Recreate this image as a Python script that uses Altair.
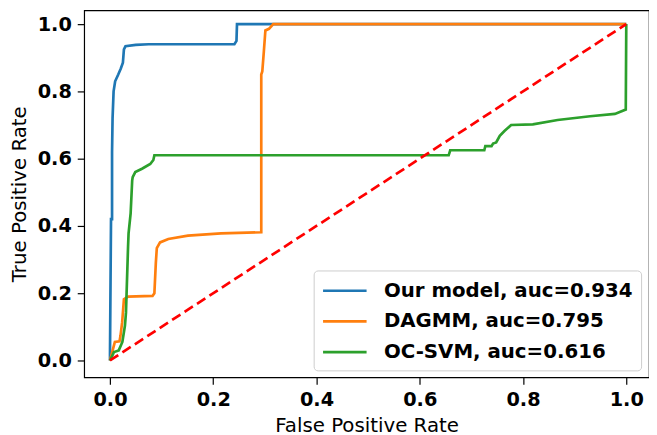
import altair as alt
import pandas as pd

series_names = ["Our model, auc=0.934", "DAGMM, auc=0.795", "OC-SVM, auc=0.616"]
series_colors = ["#1f77b4", "#ff7f0e", "#2ca02c"]

ours_fpr = [0.0, 0.0, 0.002, 0.004, 0.004, 0.005, 0.007, 0.010, 0.016, 0.021, 0.025, 0.027, 0.030, 0.050, 0.075, 0.241, 0.245, 0.246, 0.320, 1.0]
ours_tpr = [0.0, 0.02, 0.42, 0.42, 0.62, 0.72, 0.80, 0.83, 0.85, 0.868, 0.885, 0.925, 0.934, 0.938, 0.940, 0.940, 0.950, 1.0, 1.0, 1.0]

dagmm_fpr = [0.0, 0.0077, 0.0095, 0.0185, 0.0204, 0.0236, 0.027, 0.035, 0.0824, 0.086, 0.0888, 0.0907, 0.097, 0.113, 0.151, 0.215, 0.293, 0.293, 0.295, 0.298, 0.301, 0.308, 0.314, 0.316, 1.0]
dagmm_tpr = [0.0, 0.045, 0.055, 0.057, 0.074, 0.114, 0.182, 0.190, 0.192, 0.200, 0.290, 0.334, 0.351, 0.361, 0.371, 0.378, 0.381, 0.850, 0.859, 0.918, 0.981, 0.986, 0.996, 1.0, 1.0]

ocsvm_fpr = [0.0, 0.0077, 0.017, 0.024, 0.029, 0.031, 0.033, 0.035, 0.036, 0.040, 0.043, 0.044, 0.049, 0.062, 0.078, 0.084, 0.086, 0.656, 0.659, 0.725, 0.727, 0.739, 0.742, 0.748, 0.755, 0.764, 0.777, 0.819, 0.867, 0.930, 0.978, 0.999, 1.0]
ocsvm_tpr = [0.0, 0.025, 0.030, 0.055, 0.104, 0.143, 0.241, 0.339, 0.378, 0.437, 0.535, 0.545, 0.560, 0.570, 0.584, 0.596, 0.610, 0.610, 0.625, 0.625, 0.637, 0.637, 0.645, 0.648, 0.668, 0.682, 0.700, 0.702, 0.715, 0.726, 0.733, 0.746, 1.0]

chance_fpr = [0.0, 1.0]
chance_tpr = [0.0, 1.0]

x_ticks = [0.0, 0.2, 0.4, 0.6, 0.8, 1.0]
y_ticks = [0.0, 0.2, 0.4, 0.6, 0.8, 1.0]

rows = []
for name, fprs, tprs in zip(series_names, [ours_fpr, dagmm_fpr, ocsvm_fpr], [ours_tpr, dagmm_tpr, ocsvm_tpr]):
    for i, (f, t) in enumerate(zip(fprs, tprs)):
        rows.append({"model": name, "fpr": f, "tpr": t, "idx": i})
df = pd.DataFrame(rows)
chance_df = pd.DataFrame({"fpr": chance_fpr, "tpr": chance_tpr, "idx": list(range(len(chance_fpr)))})

x_enc = alt.X(
    "fpr:Q",
    scale=alt.Scale(domain=[-0.05, 1.044], nice=False, zero=False),
    axis=alt.Axis(values=x_ticks, format=".1f", title="False Positive Rate"),
)
y_enc = alt.Y(
    "tpr:Q",
    scale=alt.Scale(domain=[-0.05, 1.041], nice=False, zero=False),
    axis=alt.Axis(values=y_ticks, format=".1f", title="True Positive Rate"),
)

lines = alt.Chart(df).mark_line(strokeWidth=2.7).encode(
    x=x_enc,
    y=y_enc,
    color=alt.Color(
        "model:N",
        scale=alt.Scale(domain=series_names, range=series_colors),
        legend=alt.Legend(
            orient="none",
            legendX=232,
            legendY=263,
            title=None,
            symbolType="M-1,0H3",
            symbolStrokeWidth=2.7,
            symbolSize=484,
            symbolFillColor="transparent",
            labelFont="DejaVu Sans",
            labelFontWeight="bold",
            labelFontSize=20,
            labelColor="black",
            labelOffset=38,
            labelLimit=400,
            strokeColor="#cccccc",
            cornerRadius=4,
            fillColor="rgba(255,255,255,0.8)",
            padding=8,
            rowPadding=8,
        ),
    ),
    order="idx:Q",
)

chance = alt.Chart(chance_df).mark_line(
    color="#ff0000", strokeWidth=2.7, strokeDash=[10, 5]
).encode(x="fpr:Q", y="tpr:Q", order="idx:Q")

chart = (
    alt.layer(lines, chance)
    .properties(
        width=571,
        height=371,
        autosize=alt.AutoSizeParams(type="none"),
        padding={"left": 77, "top": 0, "right": 0, "bottom": 56},
    )
    .configure_view(stroke="black", strokeWidth=1.2)
    .configure_axis(
        domain=False,
        grid=False,
        ticks=True,
        tickColor="black",
        tickSize=7,
        tickWidth=1.2,
        labelFont="DejaVu Sans",
        labelFontWeight="bold",
        labelFontSize=19.5,
        labelColor="black",
        labelPadding=4,
        titleFont="DejaVu Sans",
        titleFontWeight="normal",
        titleFontSize=20,
        titleColor="black",
        titlePadding=8,
    )
    .configure_axisX(labelPadding=7, titlePadding=6)
    .configure_axisY(labelPadding=6)
)

chart.save("out.html", embed_options={"renderer": "svg", "actions": False})
